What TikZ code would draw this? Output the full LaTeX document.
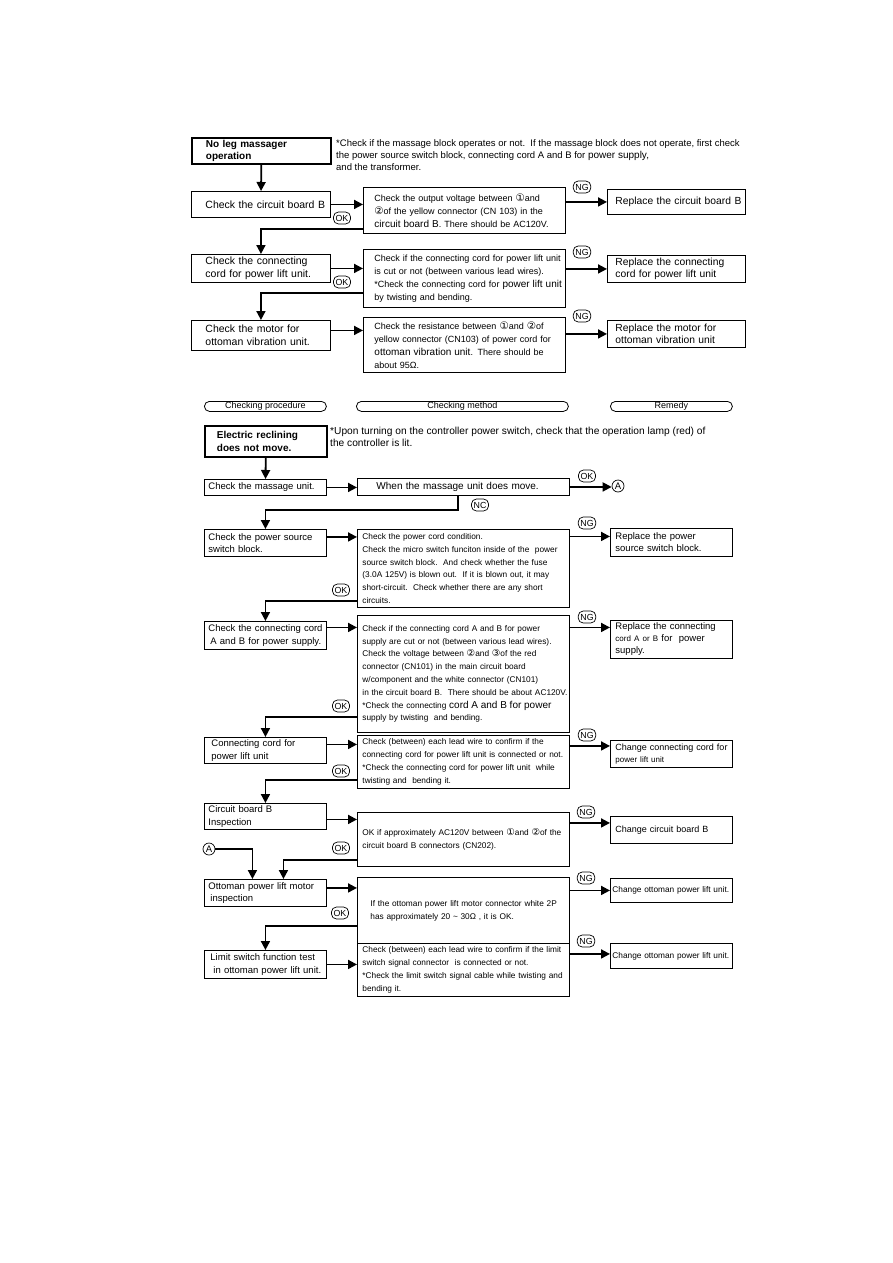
\documentclass[tikz,border=0pt]{standalone}
\usepackage{fontspec}
\setmainfont{Liberation Sans}
\newfontfamily\dvfont{DejaVu Sans}[Scale=1.15]
\usetikzlibrary{arrows.meta,positioning}

\newcommand{\cnum}[1]{{\dvfont #1}}
\newcommand{\upsz}[1]{{\fontsize{10}{12}\selectfont #1}}

\begin{document}
\begin{tikzpicture}[x=1pt,y=-1pt,
    lpad/.style={execute at begin node={\leftskip=#1\rightskip=0pt plus 1fil minus 100pt}},
    box/.style={draw,line width=0.9pt,anchor=north west,inner xsep=2pt,inner ysep=0pt,align=left},
    proc/.style={box,text width=135pt,lpad=12pt,font=\fontsize{10.5}{12.5}\selectfont},
    meth/.style={box,text width=198pt,lpad=9pt,font=\fontsize{9}{13}\selectfont},
    rem/.style={box,text width=134pt,lpad=6pt,font=\fontsize{10.3}{12.5}\selectfont},
    procb/.style={box,text width=118pt,lpad=2pt,font=\fontsize{9.5}{12.5}\selectfont},
    methb/.style={box,text width=208pt,lpad=3pt,font=\fontsize{8.3}{12.8}\selectfont},
    remb/.style={box,text width=118pt,lpad=3pt,font=\fontsize{9.5}{12}\selectfont},
    start/.style={line width=1.8pt,font=\bfseries\fontsize{10}{12.5}\selectfont},
    tag/.style={draw,line width=0.7pt,rounded corners=5pt,inner xsep=2.2pt,inner ysep=0.5pt,minimum height=12pt,font=\fontsize{8.8}{9}\selectfont},
    hdr/.style={draw,line width=0.8pt,rounded corners=5pt,anchor=north west,minimum height=10pt,inner sep=0pt,font=\fontsize{9}{9}\selectfont},
    pt/.style={draw,circle,line width=0.7pt,inner sep=0pt,minimum size=12pt,font=\fontsize{9.5}{9}\selectfont},
    arr/.style={-{Triangle[length=9pt,width=9pt]},line width=1.8pt}]
  \useasboundingbox (0,0) rectangle (893,1263);

  % leg massager
  \node[proc,start,minimum height=26pt] (c1) at (191,137) {No leg massager\\operation};
  \node[anchor=north west,align=left,inner sep=0pt,font=\fontsize{9.5}{12}\selectfont] (n1) at (336,139)
    {*Check if the massage block operates or not.\ \ If the massage block does not operate, first check\\the power source switch block, connecting cord A and B for \upsz{power supply,}\\and the transformer.};
  \node[proc,minimum height=26pt] (c2) at (191,191) {Check the circuit board B};
  \node[proc,minimum height=28pt] (c3) at (191,254) {Check the connecting\\cord for power lift unit.};
  \node[proc,minimum height=30pt] (c4) at (191,320) {Check the motor for\\ottoman vibration unit.};
  \node[meth,minimum height=46pt] (m1) at (363,187)
    {Check the output voltage between \cnum{①}and\\\cnum{②}of the yellow connector (CN 103) in the\\\upsz{circuit board B}. There should be AC120V.};
  \node[meth,minimum height=58pt] (m2) at (363,249)
    {Check if the connecting cord for power lift unit\\is cut or not (between various lead wires).\\{*}Check the connecting cord for \upsz{power lift unit}\\by twisting and bending.};
  \node[meth,minimum height=55pt] (m3) at (363,317)
    {Check the resistance between \cnum{①}and \cnum{②}of\\yellow connector (CN103) of power cord for\\\upsz{ottoman vibration unit}. There should be\\about 95Ω.};
  \node[rem,minimum height=25pt] (r1) at (607,189) {Replace the circuit board B};
  \node[rem,minimum height=27pt] (r2) at (607,255) {Replace the connecting\\cord for power lift unit};
  \node[rem,minimum height=27pt] (r3) at (607,320) {Replace the motor for\\ottoman vibration unit};
  \node[tag] (ng1) at (582,187) {NG};
  \node[tag] (ng2) at (582,252) {NG};
  \node[tag] (ng3) at (582,316) {NG};
  \node[tag] (ok1) at (342,218) {OK};
  \node[tag] (ok2) at (342,282) {OK};

  \draw[arr] (c1) -- (c2);
  \draw[arr] (c2.east) -- (c2.east -| m1.west);
  \draw[arr] (m1.east |- r1.west) -- (r1.west);
  \draw[arr] ([yshift=5pt]m1.south west) -| (c3.north);
  \draw[arr] (c3.east) -- (c3.east -| m2.west);
  \draw[arr] (m2.east |- r2.west) -- (r2.west);
  \draw[arr] ([yshift=15pt]m2.south west) -| (c4.north);
  \draw[arr] ([yshift=5pt]c4.east) -- ([yshift=5pt]c4.east -| m3.west);
  \draw[arr] (m3.east |- r3.west) -- (r3.west);

  % column heads
  \node[hdr,minimum width=122pt] (h1) at (204,401) {Checking procedure};
  \node[hdr,minimum width=212pt] (h2) at (356,401) {Checking method};
  \node[hdr,minimum width=122pt] (h3) at (610,401) {Remedy};

  % electric reclining
  \node[procb,start,minimum height=31pt,lpad=10pt] (b1) at (204,425) {Electric reclining\\does not move.};
  \node[anchor=north west,align=left,inner sep=0pt,font=\fontsize{10.2}{12}\selectfont] (n2) at (330,427)
    {*Upon turning on the controller power switch, check that the operation lamp (red) of\\the controller is lit.};
  \node[procb,minimum height=16pt] (b2) at (204,479) {Check the massage unit.};
  \node[procb,minimum height=27pt] (b3) at (204,529) {Check the power source\\switch block.};
  \node[procb,minimum height=28pt] (b4) at (204,621) {Check the connecting cord\\\hspace*{2pt}A and B for power supply.};
  \node[procb,minimum height=26pt,lpad=5pt] (b5) at (204,737) {Connecting cord for\\power lift unit};
  \node[procb,minimum height=26pt] (b6) at (204,803) {Circuit board B\\Inspection};
  \node[procb,minimum height=27pt] (b7) at (204,879) {Ottoman power lift motor\\\hspace*{2pt}inspection};
  \node[procb,minimum height=28pt,lpad=4pt] (b8) at (204,950) {Limit switch function test\\\hspace*{3pt}in ottoman power lift unit.};

  \node[methb,minimum height=17pt,lpad=17pt,font=\fontsize{10}{12}\selectfont] (m4) at (357,478) {When the massage unit does move.};
  \node[methb,minimum height=78pt] (m5) at (357,529)
    {Check the power cord condition.\\Check the micro switch funciton inside of the\ \ power\\source switch block.\ \ And check whether the fuse\\(3.0A 125V) is blown out.\ \ If it is blown out, it may\\short-circuit.\ \ Check whether there are any short\\circuits.};
  \node[methb,minimum height=117pt] (m6) at (357,615)
    {Check if the connecting cord A and B for power\\supply are cut or not (between various lead wires).\\Check the voltage between \cnum{②}and \cnum{③}of the red\\connector (CN101) in the main circuit board\\w/component and the white connector (CN101)\\in the circuit board B.\ \ There should be about AC120V.\\{*}Check the connecting \upsz{cord A and B for power}\\supply by twisting\ \ and bending.};
  \node[methb,minimum height=53pt] (m7) at (357,735)
    {Check (between) each lead wire to confirm if the\\connecting cord for power lift unit is connected or not.\\{*}Check the connecting cord for power lift unit\ \ while\\twisting and\ \ bending it.};
  \node[methb,minimum height=54pt] (m8) at (357,812)
    {OK if approximately AC120V between \cnum{①}and \cnum{②}of the\\circuit board B connectors (CN202).};
  \node[methb,minimum height=66pt,lpad=11pt] (m9) at (357,877)
    {If the ottoman power lift motor connector white 2P\\has approximately 20 \textasciitilde{} 30Ω , it is OK.};
  \node[methb,minimum height=53pt] (m10) at (357,943)
    {Check (between) each lead wire to confirm if the limit\\switch signal connector\ \ is connected or not.\\{*}Check the limit switch signal cable while twisting and\\bending it.};

  \node[remb,minimum height=28pt] (r5) at (610,528) {Replace the power\\source switch block.};
  \node[remb,minimum height=38pt] (r6) at (610,620) {Replace the connecting\\{\fontsize{8}{10}\selectfont cord A or B} for\ \ power\\supply.};
  \node[remb,minimum height=27pt,font=\fontsize{9}{12}\selectfont] (r7) at (610,740) {Change connecting cord for\\{\fontsize{8}{10}\selectfont power lift unit}};
  \node[remb,minimum height=27pt,font=\fontsize{9}{12}\selectfont] (r8) at (610,816) {Change circuit board B};
  \node[remb,minimum height=24pt,lpad=0pt,font=\fontsize{8.3}{10}\selectfont] (r9) at (610,878) {Change ottoman power lift unit.};
  \node[remb,minimum height=25pt,lpad=0pt,font=\fontsize{8.3}{10}\selectfont] (r10) at (610,943) {Change ottoman power lift unit.};

  \node[pt] (a1) at (618,486) {A};
  \node[pt] (a2) at (209,849) {A};
  \node[tag] (ok3) at (587,476) {OK};
  \node[tag] (nc1) at (480,505) {NC};
  \node[tag] (ng5) at (587,523) {NG};
  \node[tag] (ng6) at (587,617) {NG};
  \node[tag] (ng7) at (587,735) {NG};
  \node[tag] (ng8) at (586,812) {NG};
  \node[tag] (ng9) at (586,878) {NG};
  \node[tag] (ng10) at (586,941) {NG};
  \node[tag] (ok5) at (341,590) {OK};
  \node[tag] (ok6) at (341,706) {OK};
  \node[tag] (ok7) at (341,771) {OK};
  \node[tag] (ok8) at (341,848) {OK};
  \node[tag] (ok9) at (340,913) {OK};

  \draw[arr] (b1) -- (b2);
  \draw[arr] (b2.east) -- (b2.east -| m4.west);
  \draw[arr] (m4.east) -- (m4.east -| a1.west);
  \draw[arr] ([xshift=101pt]m4.south west) -- ++(0,14) -| (b3.north);
  \draw[arr] ([yshift=6pt]b3.east) -- ([yshift=6pt]b3.east -| m5.west);
  \draw[arr] ([yshift=6pt]r5.west -| m5.east) -- ([yshift=6pt]r5.west);
  \draw[arr] ([yshift=7pt]m5.south west) -| (b4.north);
  \draw[arr] ([yshift=8pt]b4.east) -- ([yshift=8pt]b4.east -| m6.west);
  \draw[arr] ([yshift=12pt]r6.west -| m6.east) -- ([yshift=12pt]r6.west);
  \draw[arr] ([yshift=16pt]m6.south west) -| (b5.north);
  \draw[arr] ([yshift=6pt]b5.east) -- ([yshift=6pt]b5.east -| m7.west);
  \draw[arr] ([yshift=8pt]r7.west -| m7.east) -- ([yshift=8pt]r7.west);
  \draw[arr] ([yshift=9pt]m7.south west) -| (b6.north);
  \draw[arr] ([yshift=-3pt]b6.east) -- ([yshift=-3pt]b6.east -| m8.west);
  \draw[arr] ([yshift=7pt]r8.west -| m8.east) -- ([yshift=7pt]r8.west);
  \draw[arr] ([yshift=7pt]m8.south west) -| ([xshift=18pt]b7.north);
  \draw[arr] (a2.east) -| ([xshift=-13pt]b7.north);
  \draw[arr] ([yshift=5pt]b7.east) -- ([yshift=5pt]b7.east -| m9.west);
  \draw[arr] (r9.west -| m9.east) -- (r9.west);
  \draw[arr] ([yshift=18pt]m9.south west) -| (b8.north);
  \draw[arr] (b8.east) -- (b8.east -| m10.west);
  \draw[arr] ([yshift=2pt]r10.west -| m10.east) -- ([yshift=2pt]r10.west);
\end{tikzpicture}
\end{document}
